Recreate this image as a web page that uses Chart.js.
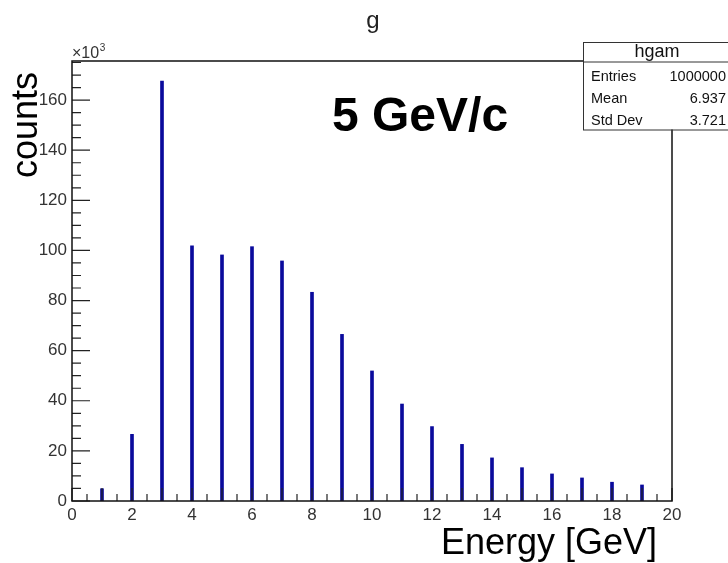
<html><head><meta charset="utf-8">
<script src="https://cdn.jsdelivr.net/npm/chart.js@4.4.0/dist/chart.umd.min.js"></script>
<style>
 body { margin:0; background:#fff; }
</style>
</head>
<body>
<canvas id="myChart" width="728" height="563"></canvas>
<script>
// histogram contents (counts in units of 10^3)
var binCenters = [1, 2, 3, 4, 5, 6, 7, 8, 9, 10, 11, 12, 13, 14, 15, 16, 17, 18, 19];
var countsK = [4.9, 26.6, 167.6, 101.8, 98.2, 101.5, 95.8, 83.3, 66.5, 51.9, 38.7, 29.7, 22.6, 17.2, 13.3, 10.8, 9.2, 7.5, 6.4];
var xMin = 0, xMax = 20, xLabelStep = 2;
var yMin = 0, yMax = 175.6, yLabelStep = 20;
var statLabels = ['Entries', 'Mean', 'Std Dev'];
var statValues = ['1000000', '6.937', '3.721'];
var histName = 'hgam';
var histTitle = 'g';

var font = '"Liberation Sans", Arial, sans-serif';

var points = binCenters.map(function (x, i) { return {x: x, y: countsK[i]}; });

// ROOT-like decorations: frame, inward ticks, titles, stats box
var rootDecor = {
  id: 'rootDecor',
  afterDatasetsDraw: function (chart) {
    var c = chart.ctx, a = chart.chartArea;
    var xs = chart.scales.x, ys = chart.scales.y;
    c.save();
    c.strokeStyle = '#222';
    c.lineWidth = 1.2;
    c.beginPath();
    for (var v = xMin; v <= xMax + 1e-9; v += 0.5) {
      var px = xs.getPixelForValue(v);
      var len = (Math.abs(v - Math.round(v)) < 1e-6) ? 13 : 7;
      c.moveTo(px, a.bottom); c.lineTo(px, a.bottom - len);
    }
    for (var w = yMin; w <= yMax; w += 5) {
      var py = ys.getPixelForValue(w);
      var l2 = (w % 20 === 0) ? 18 : 9;
      c.moveTo(a.left, py); c.lineTo(a.left + l2, py);
    }
    c.stroke();

    // frame
    c.strokeStyle = '#111';
    c.lineWidth = 1.5;
    c.strokeRect(a.left, a.top, a.right - a.left, a.bottom - a.top);

    // title
    c.fillStyle = '#222';
    c.font = '24px ' + font;
    c.textAlign = 'center';
    c.fillText(histTitle, 373, 28);

    // exponent
    c.fillStyle = '#333';
    c.textAlign = 'left';
    c.font = '16px ' + font;
    c.fillText('\u00d710', a.left, 58);
    var wExp = c.measureText('\u00d710').width;
    c.font = '10px ' + font;
    c.fillText('3', a.left + wExp + 0.5, 51);

    // axis titles
    c.fillStyle = '#000';
    c.font = '36px ' + font;
    c.textAlign = 'right';
    c.fillText('Energy [GeV]', 657, 554);
    c.save();
    c.translate(37, 72);
    c.rotate(-Math.PI / 2);
    c.textAlign = 'right';
    c.fillText('counts', 0, 0);
    c.restore();

    // annotation
    c.font = 'bold 48px ' + font;
    c.textAlign = 'left';
    c.fillText('5 GeV/c', 332, 131);

    // stats box
    var bx = 583, by = 42, bw = 160, bh = 87.5;
    c.fillStyle = '#fff';
    c.fillRect(bx, by, bw, bh);
    c.strokeStyle = '#333';
    c.lineWidth = 1;
    c.strokeRect(bx + 0.5, by + 0.5, bw, bh);
    c.beginPath();
    c.moveTo(bx, 62); c.lineTo(bx + bw, 62);
    c.stroke();
    c.fillStyle = '#111';
    c.font = '18px ' + font;
    c.textAlign = 'center';
    c.fillText(histName, 657, 57);
    c.font = '14.5px ' + font;
    for (var i = 0; i < statLabels.length; i++) {
      var base = 81 + i * 21.8;
      c.textAlign = 'left';
      c.fillText(statLabels[i], 591, base);
      c.textAlign = 'right';
      c.fillText(statValues[i], 726, base);
    }
    c.restore();
  }
};

var ctx = document.getElementById('myChart');
var myChart = new Chart(ctx, {
  type: 'bar',
  data: {
    datasets: [{
      label: histName,
      data: points,
      backgroundColor: '#0a0a9c',
      borderWidth: 0,
      barThickness: 3
    }]
  },
  options: {
    responsive: false,
    animation: false,
    layout: { padding: { top: 61, right: 56, left: 0, bottom: 0 } },
    plugins: { legend: { display: false }, tooltip: { enabled: false } },
    scales: {
      x: {
        type: 'linear',
        min: xMin, max: xMax,
        offset: false,
        grid: { display: false, drawTicks: false, offset: false },
        border: { display: false },
        afterFit: function (s) { s.height = 62; },
        ticks: {
          stepSize: xLabelStep, autoSkip: false, maxRotation: 0, padding: 4,
          color: '#333', font: { family: font, size: 17 }
        }
      },
      y: {
        min: yMin, max: yMax,
        grid: { display: false, drawTicks: false },
        border: { display: false },
        afterFit: function (s) { s.width = 72; },
        afterBuildTicks: function (s) {
          s.ticks = s.ticks.filter(function (t) { return Math.abs(t.value % yLabelStep) < 1e-6; });
        },
        ticks: {
          stepSize: yLabelStep, padding: 5,
          color: '#333', font: { family: font, size: 17 }
        }
      }
    }
  },
  plugins: [rootDecor]
});
</script>
</body></html>
